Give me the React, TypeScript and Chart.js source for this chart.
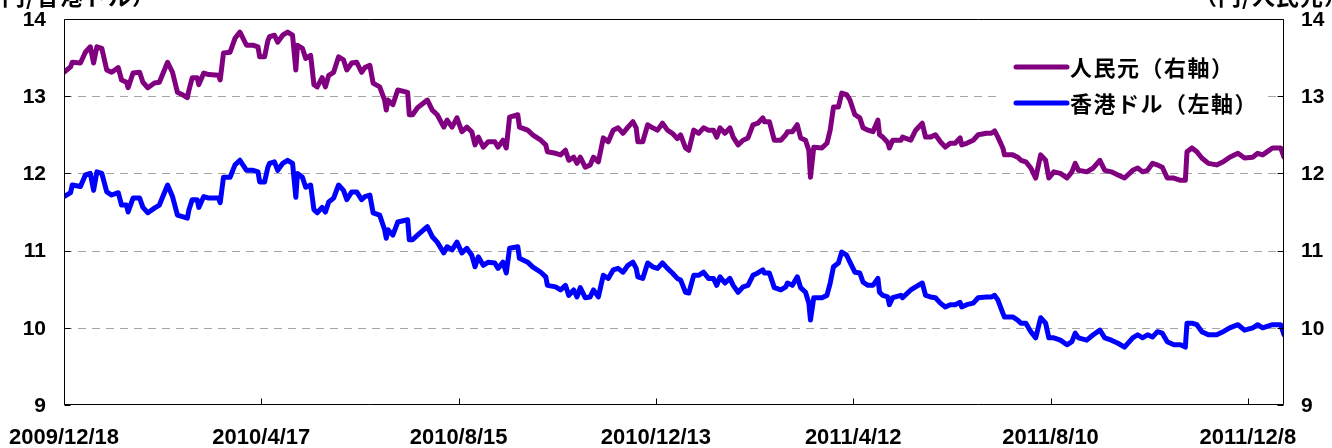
import React, { useEffect, useRef } from "react";
import { Chart, registerables } from "chart.js";

Chart.register(...registerables);

// Days elapsed since 2009/12/18 for each observation
const days = [0,4,5,10,13,16,18,20,23,26,29,33,35,38,39,42,46,48,51,55,58,63,66,69,72,75,76,78,81,82,85,88,94,95,97,101,104,107,111,115,118,119,122,124,125,128,130,133,136,139,141,142,145,147,150,152,154,157,159,161,164,167,170,172,175,178,181,183,186,188,192,195,196,197,200,203,209,210,212,215,221,224,227,231,233,236,239,242,245,248,250,252,255,258,262,264,267,269,271,276,277,282,285,290,293,294,299,302,305,307,310,312,314,317,320,322,325,328,331,334,337,340,343,346,348,349,352,355,358,361,364,367,370,373,375,378,380,383,386,389,392,395,397,399,402,405,407,410,413,416,419,422,425,426,429,432,436,439,440,443,446,448,451,453,454,456,461,464,466,468,471,473,476,478,481,484,486,489,492,495,496,498,501,502,504,509,510,515,518,522,524,527,530,533,536,539,542,545,546,549,553,556,561,564,566,568,571,572,577,580,582,585,588,591,594,597,599,602,606,610,613,615,617,622,626,630,633,637,641,645,650,653,656,659,662,665,668,671,675,679,682,683,686,689,692,696,701,705,709,714,718,723,726,729,735,740,742];

// 香港ドル (left axis)
const hkd = [11.70,11.75,11.85,11.83,11.98,12.00,11.78,12.02,12.00,11.76,11.72,11.75,11.59,11.59,11.50,11.68,11.68,11.56,11.49,11.55,11.59,11.85,11.70,11.46,11.44,11.42,11.53,11.66,11.66,11.56,11.70,11.68,11.68,11.62,11.95,11.95,12.11,12.17,12.04,12.04,12.02,11.89,11.89,12.08,12.13,12.15,12.04,12.13,12.17,12.13,11.69,12.00,11.95,11.82,11.85,11.53,11.49,11.56,11.50,11.63,11.68,11.85,11.78,11.66,11.76,11.76,11.66,11.70,11.72,11.49,11.46,11.27,11.16,11.27,11.20,11.37,11.40,11.14,11.14,11.20,11.31,11.18,11.11,10.97,11.05,11.01,11.11,10.97,11.03,10.94,10.79,10.92,10.81,10.85,10.84,10.77,10.85,10.71,11.03,11.05,10.90,10.85,10.79,10.72,10.66,10.55,10.53,10.49,10.55,10.42,10.49,10.40,10.52,10.39,10.40,10.49,10.40,10.68,10.64,10.75,10.77,10.72,10.81,10.85,10.77,10.66,10.64,10.84,10.79,10.77,10.84,10.77,10.71,10.64,10.62,10.46,10.45,10.68,10.68,10.72,10.64,10.64,10.55,10.66,10.58,10.64,10.55,10.46,10.53,10.55,10.68,10.71,10.75,10.71,10.71,10.52,10.49,10.53,10.58,10.55,10.66,10.52,10.46,10.32,10.10,10.39,10.39,10.42,10.58,10.79,10.84,10.98,10.94,10.85,10.72,10.71,10.59,10.55,10.55,10.64,10.46,10.42,10.40,10.30,10.39,10.42,10.39,10.49,10.53,10.58,10.42,10.40,10.39,10.32,10.27,10.30,10.30,10.33,10.27,10.30,10.32,10.39,10.40,10.40,10.42,10.36,10.19,10.14,10.14,10.10,10.06,10.06,9.95,9.87,10.13,10.06,9.87,9.87,9.84,9.78,9.82,9.93,9.87,9.84,9.91,9.97,9.87,9.84,9.80,9.75,9.87,9.91,9.87,9.91,9.88,9.95,9.93,9.82,9.78,9.78,9.75,10.06,10.06,10.04,9.95,9.91,9.91,9.95,10.00,10.04,9.97,10.00,10.04,10.00,10.04,10.04,9.91];

// 人民元 (right axis)
const cny = [13.31,13.38,13.44,13.43,13.57,13.64,13.43,13.64,13.62,13.34,13.31,13.37,13.21,13.18,13.11,13.30,13.31,13.18,13.11,13.17,13.18,13.44,13.31,13.05,13.02,12.98,13.08,13.24,13.24,13.15,13.30,13.28,13.27,13.21,13.56,13.57,13.75,13.83,13.66,13.66,13.64,13.51,13.51,13.72,13.77,13.79,13.70,13.79,13.83,13.79,13.34,13.66,13.62,13.49,13.53,13.15,13.12,13.24,13.12,13.27,13.31,13.51,13.47,13.34,13.43,13.44,13.31,13.37,13.40,13.17,13.12,12.95,12.82,12.95,12.89,13.08,13.05,12.76,12.76,12.85,12.95,12.82,12.76,12.60,12.69,12.60,12.72,12.54,12.60,12.54,12.37,12.47,12.34,12.41,12.41,12.34,12.43,12.33,12.73,12.76,12.60,12.56,12.50,12.43,12.37,12.28,12.26,12.24,12.30,12.17,12.21,12.13,12.21,12.08,12.11,12.21,12.15,12.46,12.41,12.56,12.59,12.52,12.60,12.67,12.59,12.41,12.41,12.63,12.59,12.56,12.65,12.56,12.52,12.45,12.50,12.33,12.30,12.56,12.52,12.59,12.56,12.56,12.47,12.59,12.52,12.59,12.47,12.37,12.43,12.46,12.63,12.65,12.72,12.67,12.67,12.43,12.43,12.50,12.54,12.54,12.63,12.46,12.43,12.30,11.95,12.34,12.33,12.39,12.56,12.86,12.86,13.04,13.02,12.95,12.76,12.72,12.59,12.56,12.54,12.69,12.50,12.47,12.40,12.33,12.43,12.43,12.47,12.43,12.56,12.65,12.47,12.47,12.50,12.41,12.34,12.39,12.39,12.46,12.37,12.39,12.43,12.50,12.52,12.52,12.55,12.47,12.33,12.24,12.24,12.21,12.17,12.15,12.07,11.94,12.24,12.17,11.94,12.02,12.00,11.94,12.02,12.13,12.04,12.02,12.07,12.17,12.04,12.02,11.98,11.94,12.04,12.07,12.02,12.04,12.13,12.11,12.08,11.94,11.94,11.91,11.91,12.28,12.33,12.28,12.20,12.13,12.11,12.15,12.21,12.26,12.20,12.21,12.26,12.24,12.33,12.33,12.21];

const xTickDays = [0, 120, 240, 360, 480, 600, 720];
const xTickLabels = ["2009/12/18", "2010/4/17", "2010/8/15", "2010/12/13", "2011/4/12", "2011/8/10", "2011/12/8"];
const xMaxDay = 742;
const yMin = 9;
const yMax = 14;
const gridValues = [10, 11, 12, 13];
const yTickValues = [9, 10, 11, 12, 13, 14];
const seriesNames = ["人民元（右軸）", "香港ドル（左軸）"];
const leftTitle = "（円/香港ドル）";
const rightTitle = "（円/人民元）";

const PURPLE = "#800080";
const BLUE = "#0000FF";
const NUM_FONT = "'Liberation Sans', Arial, sans-serif";
const CJK_FONT = "'Noto Sans CJK JP', 'Liberation Sans', sans-serif";

const decorPlugin = {
  id: "decor",
  beforeDatasetsDraw(chart: any) {
    const { ctx, chartArea: a, scales } = chart;
    const y = scales.y;
    ctx.save();
    ctx.strokeStyle = "#A6A6A6";
    ctx.lineWidth = 1;
    ctx.setLineDash([8, 6]);
    for (const v of gridValues) {
      const py = Math.round(y.getPixelForValue(v)) + 0.5;
      ctx.beginPath();
      ctx.moveTo(a.left, py);
      ctx.lineTo(a.right, py);
      ctx.stroke();
    }
    ctx.restore();
  },
  afterDatasetsDraw(chart: any) {
    const { ctx, chartArea: a, scales } = chart;
    const x = scales.x;
    const y = scales.y;
    const y2 = scales.y2;
    ctx.save();
    // frame
    ctx.strokeStyle = "#000";
    ctx.lineWidth = 1;
    ctx.setLineDash([]);
    const L = Math.round(a.left) + 0.5;
    const R = Math.round(a.right) - 0.5;
    const T = Math.round(a.top) + 0.5;
    const B = Math.round(a.bottom) - 0.5;
    ctx.beginPath();
    ctx.moveTo(L, T);
    ctx.lineTo(R, T);
    ctx.lineTo(R, B);
    ctx.lineTo(L, B);
    ctx.closePath();
    ctx.stroke();
    // y ticks (inside)
    for (const v of yTickValues) {
      const py = Math.round(y.getPixelForValue(v)) + 0.5;
      ctx.beginPath();
      ctx.moveTo(L, py);
      ctx.lineTo(L + 6, py);
      ctx.moveTo(R, py);
      ctx.lineTo(R - 6, py);
      ctx.stroke();
    }
    // x ticks (inside)
    for (const d of xTickDays) {
      const px = Math.round(x.getPixelForValue(d)) + 0.5;
      ctx.beginPath();
      ctx.moveTo(px, B);
      ctx.lineTo(px, B - 6);
      ctx.stroke();
    }
    // tick labels
    ctx.fillStyle = "#000";
    ctx.font = `bold 21px ${NUM_FONT}`;
    ctx.textBaseline = "middle";
    ctx.textAlign = "right";
    for (const v of yTickValues) {
      ctx.fillText(String(v), a.left - 18, y.getPixelForValue(v) + 1);
    }
    ctx.textAlign = "left";
    for (const v of yTickValues) {
      ctx.fillText(String(v), a.right + 17, y2.getPixelForValue(v) + 1);
    }
    ctx.font = `bold 22px ${NUM_FONT}`;
    ctx.textAlign = "center";
    xTickDays.forEach((d, i) => {
      ctx.fillText(xTickLabels[i], x.getPixelForValue(d), 438);
    });
    // legend
    ctx.fillStyle = "#fff";
    ctx.fillRect(996, 46, 266, 76);
    const colors = [PURPLE, BLUE];
    const rows = [67, 103];
    ctx.font = `bold 22px ${CJK_FONT}`;
    (ctx as any).letterSpacing = "1.5px";
    ctx.textBaseline = "middle";
    ctx.textAlign = "left";
    for (let i = 0; i < 2; i++) {
      ctx.strokeStyle = colors[i];
      ctx.lineWidth = 5;
      ctx.lineCap = "round";
      ctx.beginPath();
      ctx.moveTo(1016, rows[i]);
      ctx.lineTo(1067, rows[i]);
      ctx.stroke();
      ctx.fillStyle = "#000";
      ctx.fillText(seriesNames[i], 1070, rows[i] + 1);
    }
    // axis titles (partly above the canvas)
    ctx.font = `bold 23px ${CJK_FONT}`;
    (ctx as any).letterSpacing = "1px";
    ctx.textBaseline = "alphabetic";
    ctx.textAlign = "right";
    ctx.fillText(leftTitle, 156, 5);
    ctx.textAlign = "left";
    ctx.fillText(rightTitle, 1194, 5);
    ctx.restore();
  },
};

export default function App() {
  const ref = useRef<HTMLCanvasElement | null>(null);
  useEffect(() => {
    document.body.style.margin = "0";
    const canvas = ref.current;
    if (!canvas) return;
    const n = Math.min(days.length, hkd.length, cny.length);
    const hkdPts = [] as { x: number; y: number }[];
    const cnyPts = [] as { x: number; y: number }[];
    for (let i = 0; i < n; i++) {
      hkdPts.push({ x: days[i], y: hkd[i] });
      cnyPts.push({ x: days[i], y: cny[i] });
    }
    const chart = new Chart(canvas, {
      type: "line",
      data: {
        datasets: [
          {
            label: seriesNames[1],
            data: hkdPts,
            yAxisID: "y",
            borderColor: BLUE,
            borderWidth: 5,
            pointRadius: 0,
            tension: 0,
            borderJoinStyle: "round",
            borderCapStyle: "round",
          },
          {
            label: seriesNames[0],
            data: cnyPts,
            yAxisID: "y2",
            borderColor: PURPLE,
            borderWidth: 5,
            pointRadius: 0,
            tension: 0,
            borderJoinStyle: "round",
            borderCapStyle: "round",
          },
        ],
      },
      options: {
        animation: false,
        responsive: false,
        maintainAspectRatio: false,
        devicePixelRatio: 1,
        layout: { padding: { top: 19, left: 64, right: 48, bottom: 43 } },
        plugins: { legend: { display: false }, tooltip: { enabled: false } },
        scales: {
          x: { type: "linear", display: false, min: 0, max: xMaxDay },
          y: { position: "left", display: false, min: yMin, max: yMax },
          y2: { position: "right", display: false, min: yMin, max: yMax },
        },
      },
      plugins: [decorPlugin],
    });
    return () => chart.destroy();
  }, []);
  return (
    <div style={{ width: 1332, height: 448 }}>
      <canvas ref={ref} width={1332} height={448} style={{ width: 1332, height: 448, display: "block" }} />
    </div>
  );
}
